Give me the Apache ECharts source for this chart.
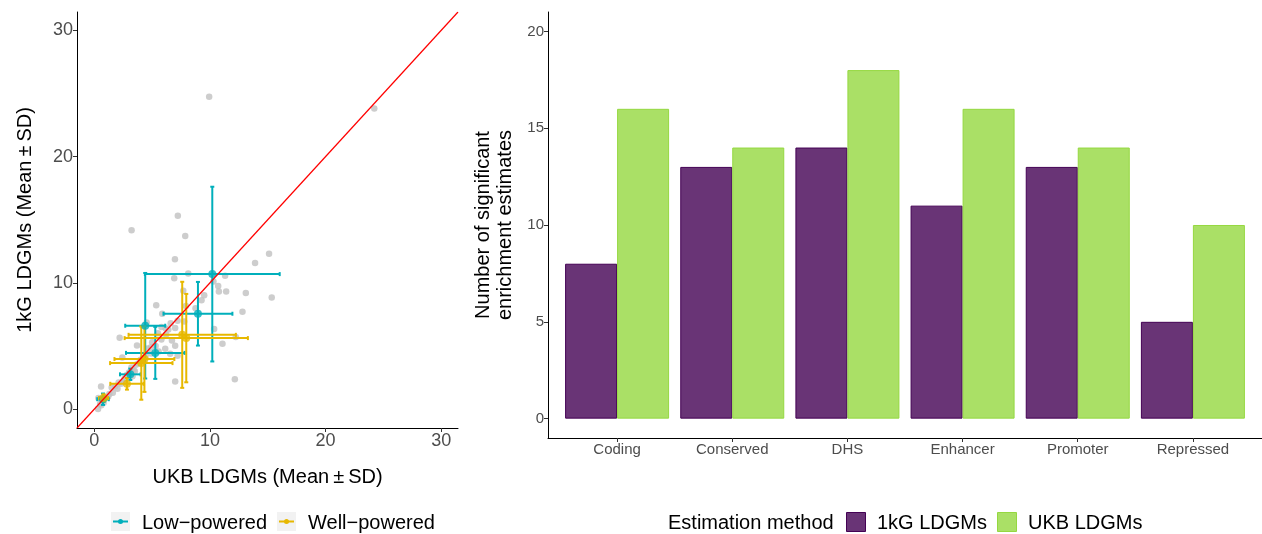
<!DOCTYPE html>
<html>
<head>
<meta charset="utf-8">
<script src="https://cdn.jsdelivr.net/npm/echarts@6/dist/echarts.min.js"></script>
<style>
html,body{margin:0;padding:0;background:#fff;}
#chart{width:1262px;height:534px;}
</style>
</head>
<body>
<div id="chart"></div>
<script>
// ---------- DATA ----------
// Left panel: gray points (UKB estimate, 1kG estimate)
const grayX = [9.93,24.21,7.22,3.22,7.86,6.97,15.11,13.9,8.12,6.91,11.31,10.71,10.77,11.4,13.1,15.34,9.5,9.27,7.69,5.35,7.92,12.81,5.87,8.75,4.52,7.77,10.36,6.99,6.16,2.19,12.23,6.71,11.08,3.69,6.13,6.99,6.56,5.56,2.42,4.43,6.99,12.15,0.58,0.35,0.32,7.2,4.9,5.8,10.3,
  1.0,1.3,1.5,1.8,2.1,2.3,2.6,2.8,3.0,3.2,3.4,3.6,3.8,4.0,4.2,3.3,2.0,1.6,0.8,0.6,4.6,5.0,5.3,5.8,6.2,6.4,4.9,5.5,6.6,7.2,0.5,1.2,2.5,3.5];
const grayY = [24.73,23.81,15.32,14.16,13.71,11.87,12.31,11.57,10.73,10.36,10.55,9.75,9.31,9.31,9.2,8.83,9.02,8.62,9.38,8.23,8.17,7.7,7.54,7.99,6.85,6.93,6.35,6.43,6.41,5.64,5.7,5.43,5.17,5.03,4.77,5.01,4.38,4.56,4.08,4.16,2.18,2.37,1.79,0.87,0.0,4.22,4.9,6.5,10.1,
  0.9,1.2,1.7,1.8,2.1,2.0,2.4,2.7,2.9,3.3,3.1,3.5,3.6,3.9,4.0,2.6,1.6,1.3,0.5,0.3,4.8,5.3,5.0,5.5,5.9,6.3,4.4,6.0,6.8,7.0,0.4,1.0,2.2,3.0];

// Low-powered: mean and SD on both axes
const lowMeanX = [10.2, 8.96, 4.4, 5.27, 3.11, 0.75];
const lowSdX   = [5.83, 2.98, 1.73, 2.53, 0.89, 0.5];
const lowMeanY = [10.69, 7.55, 6.6, 4.45, 2.75, 0.78];
const lowSdY   = [6.92, 2.52, 4.18, 2.06, 0.45, 0.45];

// Well-powered
const wellMeanX = [7.6, 7.95, 4.06, 4.33, 2.82, 0.8];
const wellSdX   = [4.64, 5.33, 2.7, 2.59, 1.44, 0.4];
const wellMeanY = [5.88, 5.62, 3.64, 3.96, 2.0, 0.87];
const wellSdY   = [4.2, 3.5, 2.9, 2.6, 0.46, 0.3];

const groupNames = ['Low\u2212powered', 'Well\u2212powered'];
const scatterTicks = [0, 10, 20, 30];
const scatterRange = [-1.5, 31.45];

// Right panel: bars
const categories = ['Coding', 'Conserved', 'DHS', 'Enhancer', 'Promoter', 'Repressed'];
const kgValues  = [8, 13, 14, 11, 13, 5];
const ukbValues = [16, 14, 18, 16, 14, 10];
const methodNames = ['1kG LDGMs', 'UKB LDGMs'];
const barTicks = [0, 5, 10, 15, 20];

// ---------- STYLE ----------
const CYAN = '#00AFBB', YELLOW = '#E7B800';
const PURPLE_FILL = 'rgba(68,1,84,0.8)', PURPLE_LINE = '#440154';
const GREEN_FILL = 'rgba(149,216,64,0.8)', GREEN_LINE = '#95D840';
const FONT = '"Liberation Sans", Arial, sans-serif';

function zip4(a,b,c,d){ return a.map((v,i)=>[v,b[i],c[i],d[i]]); }

function errRender(color){
  return function(params, api){
    const x = api.value(0), y = api.value(1), sx = api.value(2), sy = api.value(3);
    const l = api.coord([x - sx, y]), r = api.coord([x + sx, y]);
    const t = api.coord([x, y + sy]), b = api.coord([x, y - sy]);
    const cap = 2;
    const st = {stroke: color, lineWidth: 2};
    return {type:'group', children:[
      {type:'line', shape:{x1:l[0],y1:l[1],x2:r[0],y2:r[1]}, style:st},
      {type:'line', shape:{x1:l[0],y1:l[1]-cap,x2:l[0],y2:l[1]+cap}, style:st},
      {type:'line', shape:{x1:r[0],y1:r[1]-cap,x2:r[0],y2:r[1]+cap}, style:st},
      {type:'line', shape:{x1:t[0],y1:t[1],x2:b[0],y2:b[1]}, style:st},
      {type:'line', shape:{x1:t[0]-cap,y1:t[1],x2:t[0]+cap,y2:t[1]}, style:st},
      {type:'line', shape:{x1:b[0]-cap,y1:b[1],x2:b[0]+cap,y2:b[1]}, style:st}
    ]};
  };
}

const chart = echarts.init(document.getElementById('chart'), null, {renderer:'canvas'});

const axisLineStyle = {show:true, onZero:false, lineStyle:{color:'#000', width:1}};
const tickStyle = {show:true, inside:false, length:4, lineStyle:{color:'#333'}};

const option = {
  animation:false,
  backgroundColor:'#fff',
  textStyle:{fontFamily:FONT},
  grid:[
    {left:77, top:12, width:381, height:416},
    {left:548, top:12, width:714, height:426}
  ],
  xAxis:[
    {gridIndex:0, type:'value', min:scatterRange[0], max:scatterRange[1], position:'bottom',
     axisLine:axisLineStyle, splitLine:{show:false},
     axisTick:Object.assign({customValues:scatterTicks}, tickStyle),
     axisLabel:{customValues:scatterTicks, fontSize:18, color:'#4d4d4d', margin:4, fontFamily:FONT},
     name:'UKB LDGMs (Mean\u2009\u00b1\u2009SD)', nameLocation:'middle', nameGap:39,
     nameTextStyle:{fontSize:20, color:'#000', fontFamily:FONT}},
    {gridIndex:1, type:'value', min:0.4, max:6.6, position:'bottom',
     axisLine:axisLineStyle, splitLine:{show:false},
     axisTick:Object.assign({customValues:categories.map((c,i)=>i+1)}, tickStyle),
     axisLabel:{customValues:categories.map((c,i)=>i+1), formatter:v=>categories[Math.round(v)-1],
                fontSize:15, color:'#4d4d4d', margin:4, fontFamily:FONT}}
  ],
  yAxis:[
    {gridIndex:0, type:'value', min:scatterRange[0], max:scatterRange[1], position:'left',
     axisLine:axisLineStyle, splitLine:{show:false},
     axisTick:Object.assign({customValues:scatterTicks}, tickStyle),
     axisLabel:{customValues:scatterTicks, fontSize:18, color:'#4d4d4d', margin:4, fontFamily:FONT},
     name:'1kG LDGMs (Mean\u2009\u00b1\u2009SD)', nameLocation:'middle', nameGap:42, nameRotate:90,
     nameTextStyle:{fontSize:20, color:'#000', fontFamily:FONT}},
    {gridIndex:1, type:'value', min:-1, max:21, position:'left',
     axisLine:axisLineStyle, splitLine:{show:false},
     axisTick:Object.assign({customValues:barTicks}, tickStyle),
     axisLabel:{customValues:barTicks, fontSize:15, color:'#4d4d4d', margin:4, fontFamily:FONT},
     name:'Number of significant\nenrichment estimates', nameLocation:'middle', nameGap:32, nameRotate:90,
     nameTextStyle:{fontSize:20, color:'#000', lineHeight:22, fontFamily:FONT}}
  ],
  series:[
    {type:'scatter', xAxisIndex:0, yAxisIndex:0, symbolSize:6.5, z:1,
     itemStyle:{color:'rgb(192,192,192)'}, data:grayX.map((v,i)=>[v,grayY[i]])},
    {type:'custom', xAxisIndex:0, yAxisIndex:0, z:2, renderItem:errRender(CYAN),
     encode:{x:0,y:1}, data:zip4(lowMeanX,lowMeanY,lowSdX,lowSdY)},
    {type:'custom', xAxisIndex:0, yAxisIndex:0, z:2, renderItem:errRender(YELLOW),
     encode:{x:0,y:1}, data:zip4(wellMeanX,wellMeanY,wellSdX,wellSdY)},
    {type:'scatter', xAxisIndex:0, yAxisIndex:0, symbolSize:8, z:3,
     itemStyle:{color:CYAN}, data:lowMeanX.map((v,i)=>[v,lowMeanY[i]])},
    {type:'scatter', xAxisIndex:0, yAxisIndex:0, symbolSize:8, z:3,
     itemStyle:{color:YELLOW}, data:wellMeanX.map((v,i)=>[v,wellMeanY[i]])},
    {type:'line', xAxisIndex:0, yAxisIndex:0, z:4, symbol:'none',
     lineStyle:{color:'#ff0000', width:1.2},
     data:scatterRange.map(v=>[v,v])},
    {type:'bar', name:methodNames[0], xAxisIndex:1, yAxisIndex:1, barWidth:52, barGap:'0%',
     itemStyle:{color:PURPLE_FILL, borderColor:PURPLE_LINE, borderWidth:1},
     data:kgValues.map((v,i)=>[i+1,v])},
    {type:'bar', name:methodNames[1], xAxisIndex:1, yAxisIndex:1, barWidth:52, barGap:'0%',
     itemStyle:{color:GREEN_FILL, borderColor:GREEN_LINE, borderWidth:1},
     data:ukbValues.map((v,i)=>[i+1,v])}
  ],
  graphic:[
    // left legend
    {type:'rect', left:111, top:512, shape:{width:19, height:19}, style:{fill:'#f2f2f2'}},
    {type:'line', shape:{x1:113, y1:521.5, x2:128, y2:521.5}, style:{stroke:CYAN, lineWidth:2}},
    {type:'circle', shape:{cx:120.5, cy:521.5, r:2.5}, style:{fill:CYAN}},
    {type:'text', left:142, top:513, style:{text:groupNames[0], fontSize:20, fill:'#000', fontFamily:FONT}},
    {type:'rect', left:277, top:512, shape:{width:19, height:19}, style:{fill:'#f2f2f2'}},
    {type:'line', shape:{x1:279, y1:521.5, x2:294, y2:521.5}, style:{stroke:YELLOW, lineWidth:2}},
    {type:'circle', shape:{cx:286.5, cy:521.5, r:2.5}, style:{fill:YELLOW}},
    {type:'text', left:308, top:513, style:{text:groupNames[1], fontSize:20, fill:'#000', fontFamily:FONT}},
    // right legend
    {type:'text', left:668, top:513, style:{text:'Estimation method', fontSize:20, fill:'#000', fontFamily:FONT}},
    {type:'rect', left:846, top:512, shape:{width:19, height:19}, style:{fill:PURPLE_FILL, stroke:PURPLE_LINE, lineWidth:1}},
    {type:'text', left:877, top:513, style:{text:methodNames[0], fontSize:20, fill:'#000', fontFamily:FONT}},
    {type:'rect', left:997, top:512, shape:{width:19, height:19}, style:{fill:GREEN_FILL, stroke:GREEN_LINE, lineWidth:1}},
    {type:'text', left:1028, top:513, style:{text:methodNames[1], fontSize:20, fill:'#000', fontFamily:FONT}}
  ]
};
chart.setOption(option);
</script>
</body>
</html>
